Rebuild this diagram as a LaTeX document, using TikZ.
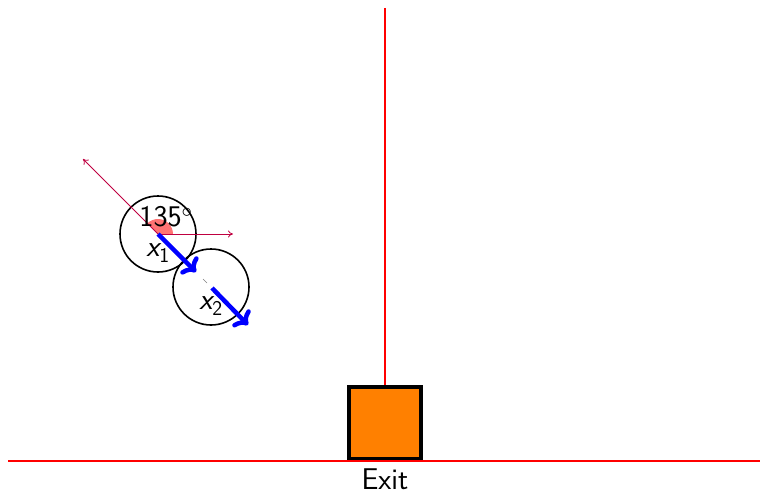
\documentclass[tikz,border=0pt]{standalone}
\usetikzlibrary{arrows.meta}
\begin{document}
\begin{tikzpicture}[x=1pt,y=-1pt,
  font=\sffamily\fontsize{30}{34}\selectfont,
  wall/.style={red,line width=1.6pt},
  agent/.style={circle,draw,line width=1.6pt,minimum size=76pt,inner sep=0pt},
  vel/.style={blue,line width=4.5pt,->},
  guide/.style={purple,line width=0.8pt,-{To[length=5pt,width=7pt]}}]
\useasboundingbox (0,0) rectangle (761,495);
% walls
\coordinate (wt) at (385,8);
\coordinate (wl) at (8,461);
\coordinate (wr) at (760,461);
\node[draw,line width=4.5pt,fill={rgb,255:red,255;green,128;blue,0},minimum size=72pt,inner sep=0pt] (exit) at (385,423) {};
\draw[wall] (wl) -- (wr);
\draw[wall] (wt) -- (exit.north);
\node[anchor=north,inner sep=0pt] (exitlab) at (385,469) {Exit};
% agents
\node[agent] (a1) at (158,234) {};
\node[agent] (a2) at (211,287) {};
% angle
\fill[red!55] (a1.center) -- ++(15,0) arc[start angle=0,end angle=-135,radius=15] -- cycle;
\coordinate (g1) at (233,234);
\coordinate (g2) at (83,159);
\draw[guide] (a1.center) -- (g1);
\draw[guide] (a1.center) -- (g2);
\node (ang) at (166,217) {135\textsuperscript{$\circ$}};
% velocities
\coordinate (v1) at (196,272);
\coordinate (v2s) at (212,288);
\coordinate (v2) at (248,325);
\coordinate (d1) at (203,279);
\coordinate (d2) at (207,283);
\draw[gray,line width=0.6pt] (d1) -- (d2);
\draw[vel] (a1.center) -- (v1);
\draw[vel] (v2s) -- (v2);
\node (x1) at (158,253) {{\itshape x}\textsubscript{1}};
\node (x2) at (211,306) {{\itshape x}\textsubscript{2}};
\end{tikzpicture}
\end{document}
